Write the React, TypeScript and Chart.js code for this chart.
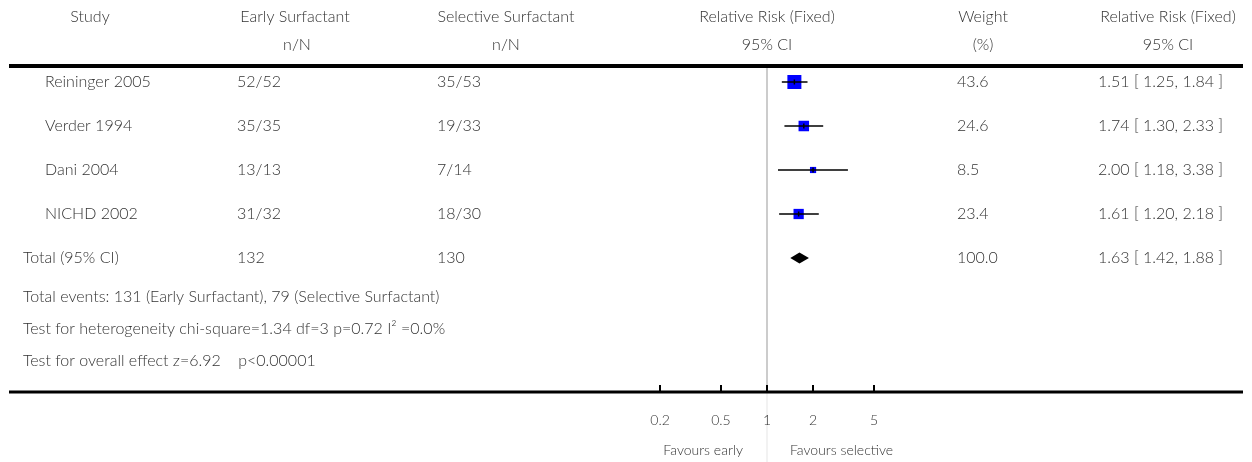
import React, { useEffect, useRef } from "react";
import { Chart, registerables } from "chart.js";

Chart.register(...registerables);

const studies = ["Reininger 2005", "Verder 1994", "Dani 2004", "NICHD 2002"];
const earlyNN = ["52/52", "35/35", "13/13", "31/32"];
const selectiveNN = ["35/53", "19/33", "7/14", "18/30"];
const weights = [43.6, 24.6, 8.5, 23.4];
const rr = [1.51, 1.74, 2.0, 1.61];
const ciLow = [1.25, 1.3, 1.18, 1.2];
const ciHigh = [1.84, 2.33, 3.38, 2.18];

const totalLabel = "Total (95% CI)";
const totalEarly = "132";
const totalSelective = "130";
const totalWeight = "100.0";
const totalRR = 1.63;
const totalLow = 1.42;
const totalHigh = 1.88;

const footerLines = [
  "Total events: 131 (Early Surfactant), 79 (Selective Surfactant)",
  "Test for heterogeneity chi-square=1.34 df=3 p=0.72 I² =0.0%",
  "Test for overall effect z=6.92    p<0.00001",
];

const axisTicks = [0.2, 0.5, 1, 2, 5];
const axisTickLabels = ["0.2", "0.5", "1", "2", "5"];
const favoursLeft = "Favours early";
const favoursRight = "Favours selective";

const FONT = "Lato, 'Open Sans', sans-serif";
const TEXT = "#333333";

const fmt = (v: number) => v.toFixed(2);

const forestPlugin = {
  id: "forest",
  beforeDatasetsDraw(chart: any) {
    const ctx = chart.ctx;
    const xs = chart.scales.x;
    const area = chart.chartArea;
    const x1 = xs.getPixelForValue(1);
    ctx.save();
    ctx.fillStyle = "#000";
    ctx.fillRect(9, 64, 1234, 4);
    ctx.fillStyle = "#999999";
    ctx.fillRect(Math.round(x1) - 0.5, 68, 1, area.bottom - 68);
    ctx.fillStyle = "#e6e6e6";
    ctx.fillRect(Math.round(x1) - 0.5, area.bottom, 1, 462 - area.bottom);
    ctx.fillStyle = "#000";
    ctx.fillRect(9, area.bottom - 1.5, 1234, 3);
    axisTicks.forEach((t) => {
      const px = xs.getPixelForValue(t);
      ctx.fillRect(Math.round(px) - 1, area.bottom - 7, 2, 7);
    });
    ctx.restore();
  },
  afterDatasetsDraw(chart: any) {
    const ctx = chart.ctx;
    const xs = chart.scales.x;
    const ys = chart.scales.y;
    const yT = ys.getPixelForValue(studies.length);
    const xl = xs.getPixelForValue(totalLow);
    const xh = xs.getPixelForValue(totalHigh);
    const xm = xs.getPixelForValue(totalRR);
    ctx.save();
    ctx.fillStyle = "#000";
    ctx.beginPath();
    ctx.moveTo(xl, yT);
    ctx.lineTo(xm, yT - 5.5);
    ctx.lineTo(xh, yT);
    ctx.lineTo(xm, yT + 5.5);
    ctx.closePath();
    ctx.fill();
    ctx.restore();
  },
  afterDraw(chart: any) {
    const ctx = chart.ctx;
    const xs = chart.scales.x;
    const ys = chart.scales.y;
    const area = chart.chartArea;
    ctx.save();
    ctx.fillStyle = TEXT;
    ctx.textBaseline = "middle";
    ctx.font = `300 16px ${FONT}`;
    const cText = (s: string, x: number, y: number) => {
      ctx.textAlign = "center";
      ctx.fillText(s, x, y);
    };
    const lText = (s: string, x: number, y: number) => {
      ctx.textAlign = "left";
      ctx.fillText(s, x, y);
    };
    cText("Study", 90, 17);
    cText("Early Surfactant", 295, 17);
    cText("n/N", 297, 45);
    cText("Selective Surfactant", 506, 17);
    cText("n/N", 506, 45);
    cText("Relative Risk (Fixed)", 767, 17);
    cText("95% CI", 767, 45);
    cText("Weight", 983, 17);
    cText("(%)", 983, 45);
    cText("Relative Risk (Fixed)", 1168, 17);
    cText("95% CI", 1168, 45);

    studies.forEach((s, i) => {
      const y = ys.getPixelForValue(i);
      lText(s, 45, y);
      lText(earlyNN[i], 237, y);
      lText(selectiveNN[i], 437, y);
      lText(weights[i].toFixed(1), 957, y);
      lText(`${fmt(rr[i])} [ ${fmt(ciLow[i])}, ${fmt(ciHigh[i])} ]`, 1098, y);
    });
    const yT = ys.getPixelForValue(studies.length);
    lText(totalLabel, 23, yT);
    lText(totalEarly, 237, yT);
    lText(totalSelective, 437, yT);
    lText(totalWeight, 957, yT);
    lText(`${fmt(totalRR)} [ ${fmt(totalLow)}, ${fmt(totalHigh)} ]`, 1098, yT);

    footerLines.forEach((s, i) => {
      lText(s, 23, yT + 39 + i * 32);
    });

    ctx.font = `300 14px ${FONT}`;
    axisTicks.forEach((t, i) => {
      cText(axisTickLabels[i], xs.getPixelForValue(t), area.bottom + 28);
    });
    const x1 = xs.getPixelForValue(1);
    ctx.textAlign = "right";
    ctx.fillText(favoursLeft, x1 - 24, area.bottom + 58);
    ctx.textAlign = "left";
    ctx.fillText(favoursRight, x1 + 23, area.bottom + 58);
    ctx.restore();
  },
};

export default function App() {
  const ref = useRef<HTMLCanvasElement | null>(null);
  useEffect(() => {
    if (!ref.current) return;
    const ciData: any[] = [];
    studies.forEach((_, i) => {
      ciData.push({ x: ciLow[i], y: i });
      ciData.push({ x: ciHigh[i], y: i });
      ciData.push({ x: rr[i], y: null });
    });
    const chart = new Chart(ref.current, {
      type: "scatter",
      data: {
        datasets: [
          {
            label: "tick",
            data: rr.map((v, i) => ({ x: v, y: i })),
            pointStyle: "line",
            rotation: 90,
            pointRadius: 2.5,
            borderColor: "#000",
            borderWidth: 1.5,
            order: 0,
          } as any,
          {
            label: "CI",
            data: ciData,
            showLine: true,
            spanGaps: false,
            pointRadius: 0,
            borderColor: "#000",
            borderWidth: 1.5,
            order: 1,
          } as any,
          {
            label: "studies",
            data: rr.map((v, i) => ({ x: v, y: i })),
            pointStyle: "rect",
            pointRadius: weights.map((w) => (2.12 * Math.sqrt(w)) / Math.SQRT2),
            backgroundColor: "#0000ff",
            borderWidth: 0,
            order: 2,
          } as any,
        ],
      },
      options: {
        animation: false,
        responsive: false,
        layout: { padding: { left: 614, right: 332, top: 67, bottom: 70 } },
        plugins: { legend: { display: false }, tooltip: { enabled: false } },
        events: [],
        scales: {
          x: { type: "logarithmic", min: 0.1, max: 10, display: false },
          y: { type: "linear", min: (67 - 82) / 44, max: (392 - 82) / 44, reverse: true, display: false },
        },
      },
      plugins: [forestPlugin],
    });
    return () => chart.destroy();
  }, []);
  return (
    <div style={{ position: "fixed", left: 0, top: 0, width: 1252, height: 462, background: "#fff" }}>
      <canvas ref={ref} width={1252} height={462} style={{ display: "block" }} />
    </div>
  );
}
